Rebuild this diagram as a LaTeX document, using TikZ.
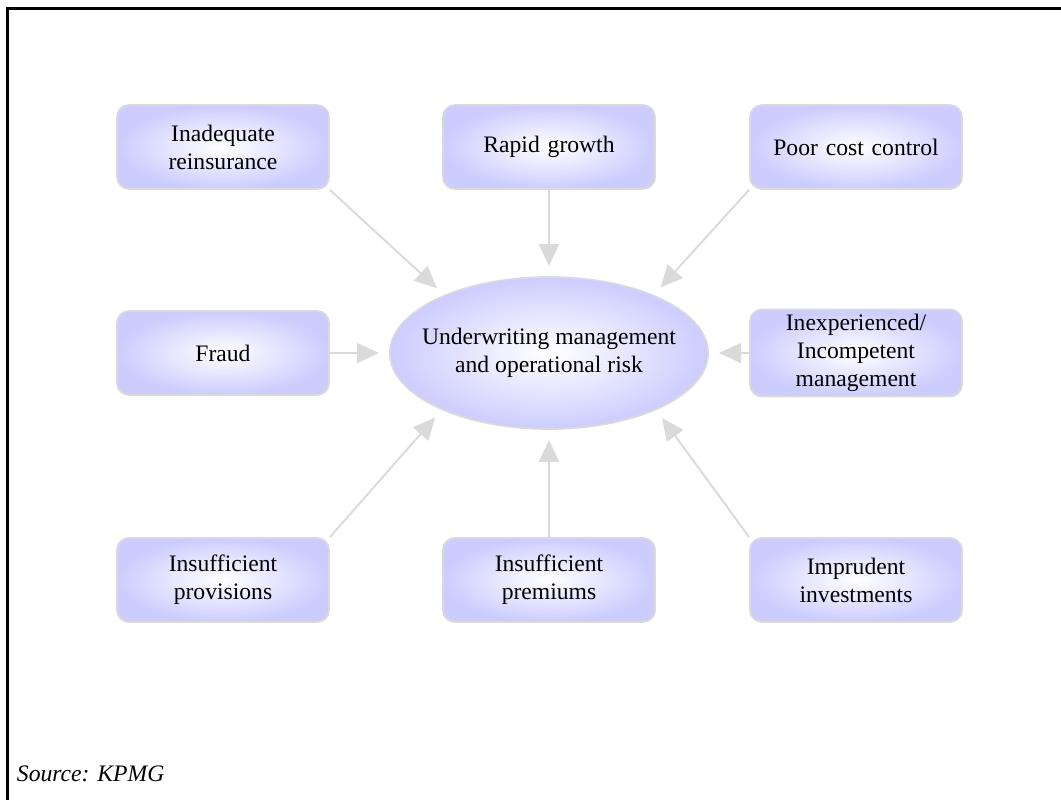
\documentclass[tikz,border=0pt]{standalone}
\usepackage{fontspec}
\setmainfont{Liberation Serif}
\usetikzlibrary{arrows.meta,shapes.geometric}
\definecolor{lav}{RGB}{204,204,255}
\definecolor{edgegray}{RGB}{218,218,218}
\tikzset{
  cause/.style={draw=edgegray, line width=1.2pt, rounded corners=0.3cm,
    inner color=white, outer color=lav, minimum width=5.3cm, minimum height=2.1cm,
    text width=5cm, align=center, font=\fontsize{16.8}{20}\selectfont},
  core/.style={ellipse, draw=edgegray, line width=1.2pt, inner color=white, outer color=lav,
    inner xsep=-0.36cm, inner ysep=0pt, minimum width=7.95cm, minimum height=3.8cm,
    align=center, font=\fontsize{16.8}{20}\selectfont},
  feed/.style={draw=edgegray, line width=1.4pt, -{Triangle[width=0.5cm,length=0.55cm]}, shorten >=0.25cm}
}
\begin{document}
\begin{tikzpicture}[x=0.025cm,y=-0.025cm]
  \useasboundingbox (0,0) rectangle (1061,800);
  \draw[line width=1.8pt] (7.5,800) -- (7.5,8.5) -- (1061,8.5);
  \node[core] (risk) at (549,353) {Underwriting management\\and operational risk};
  \node[cause] (inad) at (223,147) {Inadequate\\reinsurance};
  \node[cause] (rapid) at (549,147) {Rapid growth};
  \node[cause] (poor) at (856,147) {Poor cost control};
  \node[cause] (fraud) at (223,353) {Fraud};
  \node[cause] (inexp) at (856,353) {Inexperienced/\\Incompetent\\management};
  \node[cause] (provis) at (223,580) {Insufficient\\provisions};
  \node[cause] (premium) at (549,580) {Insufficient\\premiums};
  \node[cause] (imprud) at (856,580) {Imprudent\\investments};
  \foreach \a/\b in {inad.south east/risk.151, rapid.south/risk.north, poor.south west/risk.29,
    fraud.east/risk.west, inexp.west/risk.east, provis.north east/risk.208,
    premium.north/risk.south, imprud.north west/risk.332}{
    \draw[feed] (\a) -- (\b);
  }
  \node[anchor=base west, font=\fontsize{16.8}{20}\selectfont\itshape] (src) at (12,781) {Source: KPMG};
\end{tikzpicture}
\end{document}
